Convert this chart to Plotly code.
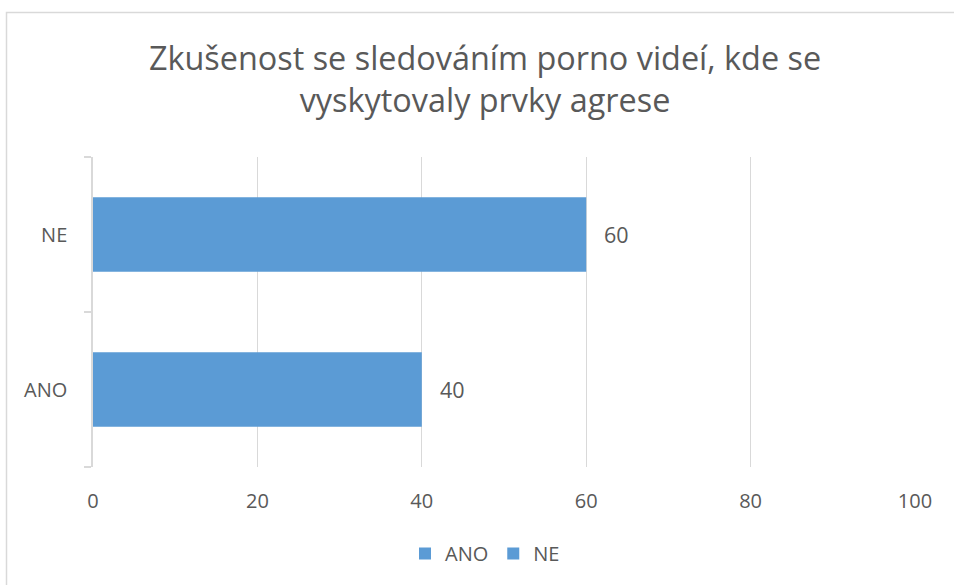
import plotly.graph_objects as go

categories = ["ANO", "NE"]
values = [40, 60]
x_ticks = [0, 20, 40, 60, 80, 100]
title_text = "Zkušenost se sledováním porno videí, kde se<br>vyskytovaly prvky agrese"

BLUE = "#5B9BD5"
TXT = "#595959"
GRID = "#D9D9D9"
FONT = "Open Sans"

W, H = 954, 585
L, T = 93, 157
pw, ph = 822, 310
R, B = W - L - pw, H - T - ph

fig = go.Figure()
for c, v in zip(categories, values):
    fig.add_trace(go.Bar(
        y=[c], x=[v], name=c, orientation="h",
        marker=dict(color=BLUE, line=dict(width=0)),
        width=0.48, showlegend=True,
    ))
    fig.add_annotation(
        x=v, y=c, text=str(v), showarrow=False, xanchor="left",
        xshift=16, font=dict(family=FONT, size=21.5, color=TXT),
    )

fig.update_layout(
    width=W, height=H,
    margin=dict(l=L, r=R, t=T, b=B),
    paper_bgcolor="white", plot_bgcolor="white",
    barmode="overlay",
    font=dict(family=FONT, color=TXT),
    title=dict(
        text=title_text, x=485 / W, xanchor="center", xref="container",
        y=1 - 70 / H, yanchor="top",
        font=dict(family=FONT, size=32.4, color=TXT),
    ),
    xaxis=dict(
        range=[0, 100], tickvals=x_ticks, showgrid=True, gridcolor=GRID, gridwidth=1.3,
        zeroline=False, showline=False, ticks="",
        tickfont=dict(family=FONT, size=20, color=TXT),
        ticklabelstandoff=20,
    ),
    yaxis=dict(
        categoryorder="array", categoryarray=categories,
        range=[-0.5, 1.5], showgrid=False, zeroline=False,
        showline=True, linecolor=GRID, linewidth=1.5,
        ticks="outside", tickson="boundaries", ticklen=7, tickcolor=GRID, tickwidth=1.5,
        tickfont=dict(family=FONT, size=20, color=TXT),
        ticklabelstandoff=20,
    ),
    legend=dict(
        orientation="h", x=485 / W, xref="container", xanchor="center",
        y=1 - 534 / H, yref="container", yanchor="top",
        font=dict(family=FONT, size=20, color=TXT),
        itemwidth=30, tracegroupgap=0,
    ),
    shapes=[dict(
        type="rect", xref="paper", yref="paper",
        x0=(6.5 - L) / pw, x1=(W + 20 - L) / pw,
        y0=(T + ph - (H + 20)) / ph, y1=(T + ph - 12.5) / ph,
        line=dict(color=GRID, width=1.5), fillcolor="rgba(0,0,0,0)", layer="below",
    )],
)

fig.write_html("out.html", config={"displayModeBar": False},
               post_script="document.body.style.margin='0';")
